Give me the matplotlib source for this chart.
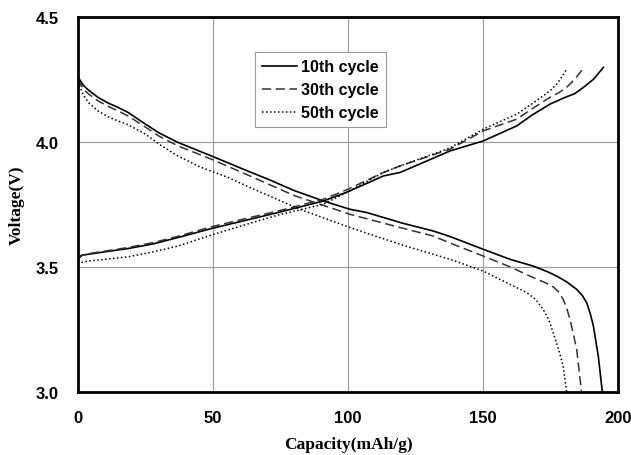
import matplotlib
matplotlib.use("Agg")
import matplotlib.pyplot as plt

# Discharge curves (capacity mAh/g, voltage V)
dis10_x = [0, 2, 4, 7.4, 11, 14.8, 18.5, 25, 30, 37, 49.4, 63.7, 70.4, 80, 90.9, 100.7, 106.9, 120, 131.6, 137.8, 150.1, 160, 168.6, 174, 177.3, 181, 184.7, 186.8, 188.4, 189.8, 190.9, 192.7, 194.2]
dis10_y = [4.258, 4.225, 4.205, 4.177, 4.155, 4.137, 4.117, 4.070, 4.035, 3.997, 3.943, 3.879, 3.850, 3.805, 3.763, 3.730, 3.717, 3.675, 3.643, 3.621, 3.570, 3.530, 3.503, 3.480, 3.463, 3.440, 3.410, 3.385, 3.357, 3.310, 3.263, 3.143, 3.000]

dis30_x = [0, 2, 4, 7.4, 11, 14.8, 18.5, 25, 30, 37, 49.4, 63.7, 80, 100.7, 120, 131.6, 137.8, 150.1, 160, 168.6, 173, 176, 178, 179.7, 181, 182.2, 183.5, 184.7, 186.5]
dis30_y = [4.250, 4.210, 4.190, 4.163, 4.142, 4.123, 4.103, 4.058, 4.022, 3.983, 3.930, 3.863, 3.785, 3.710, 3.655, 3.623, 3.595, 3.543, 3.500, 3.457, 3.437, 3.420, 3.400, 3.370, 3.335, 3.290, 3.230, 3.170, 3.000]

dis50_x = [0, 2, 4, 7.4, 11, 14.8, 18.5, 25, 30, 37, 45, 55.6, 63.7, 82.2, 100.7, 119.3, 137.8, 150.1, 160, 166.2, 169.5, 172.3, 174.3, 176, 178, 179.7, 181]
dis50_y = [4.240, 4.185, 4.155, 4.123, 4.100, 4.083, 4.068, 4.030, 3.990, 3.943, 3.900, 3.857, 3.817, 3.730, 3.657, 3.590, 3.530, 3.483, 3.430, 3.397, 3.370, 3.330, 3.290, 3.237, 3.170, 3.103, 3.000]

# Charge curves
chg10_x = [0, 1.5, 3.7, 10, 18.5, 28, 37, 49.4, 63.7, 74.1, 90.9, 100, 113.1, 119.3, 137.8, 150.1, 162.5, 168, 174.8, 180, 184, 187.2, 191, 194.6]
chg10_y = [3.537, 3.547, 3.550, 3.560, 3.573, 3.592, 3.617, 3.653, 3.690, 3.717, 3.763, 3.800, 3.863, 3.877, 3.963, 4.003, 4.063, 4.105, 4.150, 4.175, 4.192, 4.217, 4.250, 4.297]

chg30_x = [0, 1.5, 3.7, 10, 18.5, 28, 37, 49.4, 63.7, 74.1, 90.9, 100, 113.1, 119.3, 137.8, 150.1, 162.5, 168, 174.8, 178, 181, 184, 187.2]
chg30_y = [3.530, 3.545, 3.552, 3.563, 3.577, 3.597, 3.622, 3.660, 3.697, 3.723, 3.770, 3.810, 3.877, 3.903, 3.970, 4.043, 4.090, 4.130, 4.177, 4.195, 4.217, 4.250, 4.293]

chg50_x = [0, 1.5, 3.7, 10, 18.5, 28, 37, 49.4, 63.7, 74.1, 90.9, 100, 113.1, 119.3, 137.8, 150.1, 162.5, 168, 172.3, 175, 177.3, 179.3, 181]
chg50_y = [3.510, 3.518, 3.523, 3.530, 3.540, 3.560, 3.583, 3.627, 3.674, 3.707, 3.750, 3.800, 3.877, 3.903, 3.975, 4.050, 4.110, 4.150, 4.183, 4.205, 4.230, 4.260, 4.290]

labels = ["10th cycle", "30th cycle", "50th cycle"]
x_ticks = [0, 50, 100, 150, 200]
y_ticks = [3.0, 3.5, 4.0, 4.5]

fig = plt.figure(figsize=(6.31, 4.56), dpi=100)
ax = fig.add_axes([78/631, 1-393/456, 540/631, 375.5/456])

styles = [dict(color="black", lw=1.2, linestyle="-"),
          dict(color="#333333", lw=1.1, linestyle=(0, (6, 3))),
          dict(color="black", lw=1.1, linestyle=(0, (1, 1.6)))]

l1, = ax.plot(dis10_x, dis10_y, **styles[0], label=labels[0])
ax.plot(chg10_x, chg10_y, **styles[0])
l2, = ax.plot(dis30_x, dis30_y, **styles[1], label=labels[1])
ax.plot(chg30_x, chg30_y, **styles[1])
l3, = ax.plot(dis50_x, dis50_y, **styles[2], label=labels[2])
ax.plot(chg50_x, chg50_y, **styles[2])

ax.set_xlim(0, 200)
ax.set_ylim(3.0, 4.5)
ax.set_xticks(x_ticks)
ax.set_yticks(y_ticks)
ax.set_xticklabels([str(v) for v in x_ticks])
ax.set_yticklabels([f"{v:.1f}" for v in y_ticks])
ax.grid(True, color="#999999", lw=0.8)
ax.set_axisbelow(True)
ax.tick_params(axis="y", length=0, pad=14)
ax.tick_params(axis="x", length=0, pad=13)
for lab in ax.get_xticklabels() + ax.get_yticklabels():
    lab.set_fontfamily("Liberation Sans")
    lab.set_fontweight("bold")
    lab.set_fontsize(12)
for s in ax.spines.values():
    s.set_linewidth(2.0)
    s.set_color("black")

ax.set_xlabel("Capacity(mAh/g)", fontfamily="Liberation Serif", fontweight="bold", fontsize=12.5, labelpad=8)
ax.set_ylabel("Voltage(V)", fontfamily="Liberation Serif", fontweight="bold", fontsize=12.5, labelpad=8)

leg = ax.legend(handles=[l1, l2, l3], loc="upper left",
                bbox_to_anchor=((255-78)/540, (393-53)/375.5),
                prop=dict(family="Liberation Sans", weight="bold", size=11.5),
                frameon=True, fancybox=False, framealpha=1, edgecolor="#999999",
                handlelength=2.2, handletextpad=0.25, labelspacing=0.5,
                borderpad=0.45, borderaxespad=0)
leg.get_frame().set_linewidth(0.8)

fig.savefig("out.png", dpi=100)
